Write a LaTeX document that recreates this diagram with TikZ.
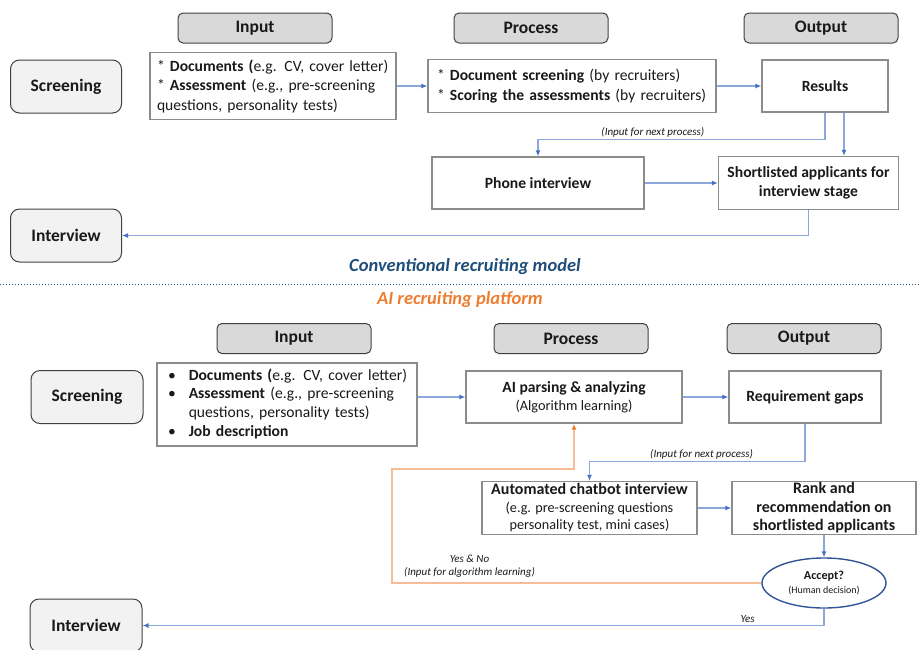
\documentclass[tikz,border=0pt]{standalone}
\usepackage{fontspec}
\setmainfont{Carlito}
\usepackage{tikz}
\usepackage{xcolor}
\usetikzlibrary{shapes,arrows.meta,positioning,calc}
\definecolor{flowblue}{RGB}{68,114,196}
\definecolor{lineblue}{RGB}{140,168,218}
\definecolor{boxgray}{RGB}{140,140,140}
\definecolor{headgray}{RGB}{217,217,217}
\definecolor{stagegray}{RGB}{242,242,242}
\definecolor{titleblue}{RGB}{31,78,121}
\definecolor{aiorange}{RGB}{237,125,49}
\definecolor{feedorange}{RGB}{246,188,150}
\definecolor{acceptblue}{RGB}{47,85,151}

\begin{document}
\begin{tikzpicture}[
    x=1pt,y=-1pt,
    every node/.style={text=black!90},
    head/.style={draw=black!75,fill=headgray,rounded corners=5pt,line width=1pt,minimum width=154pt,minimum height=30pt,font=\fontsize{17.5}{21}\selectfont\bfseries},
    stage/.style={draw=black!75,fill=stagegray,rounded corners=9pt,line width=1pt,minimum width=111pt,minimum height=53pt,font=\fontsize{17.5}{21}\selectfont\bfseries},
    box/.style={draw=boxgray,line width=1.3pt,font=\fontsize{15.6}{19.5}\selectfont},
    boldbox/.style={box,font=\fontsize{15.6}{19.5}\selectfont\bfseries,align=center},
    flow/.style={draw=lineblue,line width=1.2pt,-{Latex[length=6pt,width=5pt,color=flowblue]}},
    feed/.style={draw=feedorange,line width=1.2pt,-{Latex[length=6pt,width=5pt,color=aiorange]}},
    note/.style={font=\fontsize{11}{13}\selectfont\itshape,inner sep=2pt}
]
\useasboundingbox (0,0) rectangle (919,649);

% Conventional model: column heads
\node[head] (inhead1) at (255,28) {Input};
\node[head] (prochead1) at (531,28) {Process};
\node[head] (outhead1) at (821,28) {Output};

% Conventional model: stages
\node[stage] (screen1) at (66,86.5) {Screening};
\node[stage] (interview1) at (66,235.5) {Interview};

% Conventional model: steps
\node[box,text width=232pt,inner xsep=7pt,minimum height=67pt,align=left] (input1) at (273,86) {{*} \textbf{Documents (}e.g. CV, cover letter)\\{*} \textbf{Assessment} (e.g., pre-screening\\questions, personality tests)};
\node[box,text width=270pt,inner xsep=9pt,minimum height=53pt,align=left] (proc1) at (572,86) {{*} \textbf{Document screening} (by recruiters)\\{*} \textbf{Scoring the assessments} (by recruiters)};
\node[boldbox,minimum width=126pt,minimum height=52pt] (results) at (825,86) {Results};
\node[boldbox,minimum width=212pt,minimum height=52pt] (phone) at (538,183) {Phone interview};
\node[boldbox,minimum width=180pt,minimum height=53pt] (shortlist) at (808.5,183) {Shortlisted applicants for\\interview stage};

% Conventional model: connections
\draw[flow] (input1) -- (proc1);
\draw[flow] (proc1) -- (results);
\draw[flow] (results.south) -- ++(0,27) -| node[note,pos=0.3,above]{(Input for next process)} (phone.north);
\draw[flow] ([xshift=19pt]results.south) -- ([xshift=19pt]results.south |- shortlist.north);
\draw[flow] (phone) -- (shortlist);
\draw[flow] (shortlist.south) |- (interview1.east);

% Titles and separator
\node[font=\fontsize{18.5}{22}\selectfont\bfseries\itshape,text=titleblue] (convtitle) at (465,267) {Conventional recruiting model};
\draw[titleblue,dotted,line width=1pt] (0,284) -- (919,284);
\node[font=\fontsize{18.5}{22}\selectfont\bfseries\itshape,text=aiorange] (aititle) at (460,300) {AI recruiting platform};

% AI platform: column heads
\node[head] (inhead2) at (294,338.5) {Input};
\node[head] (prochead2) at (571,338.5) {Process};
\node[head] (outhead2) at (804,338.5) {Output};

% AI platform: stages
\node[stage,minimum width=112pt] (screen2) at (87,397) {Screening};
\node[stage,minimum width=112pt] (interview2) at (86,625.5) {Interview};

% AI platform: steps
\node[box,text width=238pt,inner xsep=11pt,minimum height=83pt,align=left,font=\fontsize{15.6}{18.7}\selectfont] (input2) at (287,404.5) {%
\begin{tabular}{@{}l@{\hspace{13pt}}l@{}}
\textbullet & \textbf{Documents (}e.g. CV, cover letter)\\
\textbullet & \textbf{Assessment} (e.g., pre-screening\\
 & questions, personality tests)\\
\textbullet & \textbf{Job description}
\end{tabular}};
\node[boldbox,minimum width=216pt,minimum height=52pt] (ai) at (574,397) {AI parsing \& analyzing\\[-1pt]{\fontsize{14.3}{17}\selectfont\mdseries (Algorithm learning)}};
\node[boldbox,minimum width=152pt,minimum height=52pt] (req) at (805,397) {Requirement gaps};
\node[box,minimum width=215pt,minimum height=53pt,inner ysep=1pt,align=center,font=\fontsize{14.2}{17.5}\selectfont] (chat) at (589.5,508) {{\fontsize{16}{17.5}\selectfont\bfseries Automated chatbot interview}\\(e.g. pre-screening questions\\personality test, mini cases)};
\node[boldbox,minimum width=184pt,minimum height=53pt,inner ysep=0pt,font=\fontsize{16}{18.5}\selectfont\bfseries] (rank) at (824,508) {Rank and\\recommendation on\\shortlisted applicants};
\node[ellipse,draw=acceptblue,line width=1.4pt,minimum width=124pt,minimum height=50pt,inner sep=0pt,align=center,font=\fontsize{12.2}{14}\selectfont\bfseries] (accept) at (824,583) {Accept?\\{\fontsize{10}{12}\selectfont\mdseries (Human decision)}};
\coordinate (fbturn) at (392,469);

% AI platform: connections
\draw[flow] (input2.east |- ai.west) -- (ai.west);
\draw[flow] (ai) -- (req);
\draw[flow] (req.south) -- ++(0,38) -| node[note,pos=0.24,above]{(Input for next process)} (chat.north);
\draw[flow] (chat) -- (rank);
\draw[flow] (rank) -- (accept);
\draw[flow] (accept.south) |- node[note,pos=0.556,above]{Yes} (interview2.east);
\draw[feed] (accept.west) -| node[note,pos=0.395,above=3pt,align=center]{Yes \& No\\(Input for algorithm learning)} (fbturn) -| (ai.south);

\end{tikzpicture}
\end{document}
